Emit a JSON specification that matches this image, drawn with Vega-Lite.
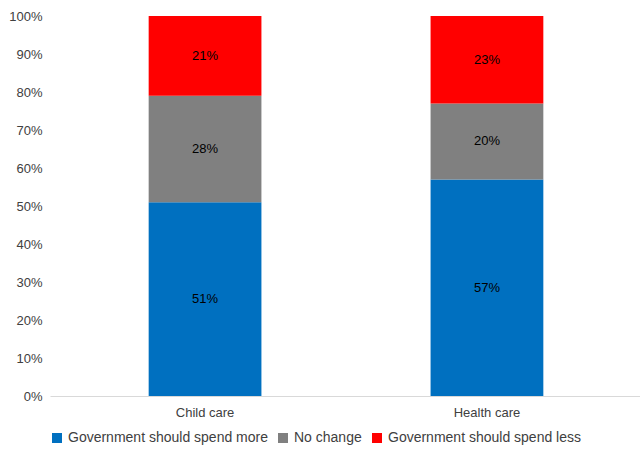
{
  "$schema": "https://vega.github.io/schema/vega-lite/v6.json",
  "width": 592,
  "height": 380,
  "padding": {"left": 8, "top": 10, "right": 0, "bottom": 5},
  "autosize": {"type": "pad"},
  "config": {"view": {"stroke": null}, "font": "Liberation Sans"},
  "data": {"values": [
    {"cat": "Child care", "resp": "Government should spend more", "o": 1, "v": 51, "label": "51%"},
    {"cat": "Child care", "resp": "No change", "o": 2, "v": 28, "label": "28%"},
    {"cat": "Child care", "resp": "Government should spend less", "o": 3, "v": 21, "label": "21%"},
    {"cat": "Health care", "resp": "Government should spend more", "o": 1, "v": 57, "label": "57%"},
    {"cat": "Health care", "resp": "No change", "o": 2, "v": 20, "label": "20%"},
    {"cat": "Health care", "resp": "Government should spend less", "o": 3, "v": 23, "label": "23%"}
  ]},
  "encoding": {
    "x": {"field": "cat", "type": "nominal", "title": null,
      "scale": {"paddingInner": 0.6, "paddingOuter": 0.35},
      "axis": {"labelAngle": 0, "labelFontSize": 13, "labelColor": "#404040", "ticks": false, "domainColor": "#d9d9d9", "labelPadding": 10}},
    "y": {"field": "v", "type": "quantitative", "stack": "normalize", "title": null,
      "axis": {"format": "%", "tickCount": 10, "grid": false, "domain": false, "ticks": false, "labelFontSize": 13, "labelColor": "#404040", "labelPadding": 8}},
    "order": {"field": "o"}
  },
  "layer": [
    {"mark": {"type": "bar"},
     "encoding": {"color": {"field": "resp", "type": "nominal",
       "scale": {"domain": ["Government should spend more", "No change", "Government should spend less"], "range": ["#0070C0", "#808080", "#FF0000"]},
       "legend": {"orient": "bottom", "direction": "horizontal", "title": null, "symbolType": "square", "labelFontSize": 14, "labelLimit": 300, "labelColor": "#404040", "symbolSize": 100, "columnPadding": 8, "offset": 12}}}},
    {"mark": {"type": "text", "fontSize": 13, "color": "#000"},
     "encoding": {"y": {"field": "v", "type": "quantitative", "stack": "normalize", "bandPosition": 0.5},
       "text": {"field": "label", "type": "nominal"}}}
  ]
}
